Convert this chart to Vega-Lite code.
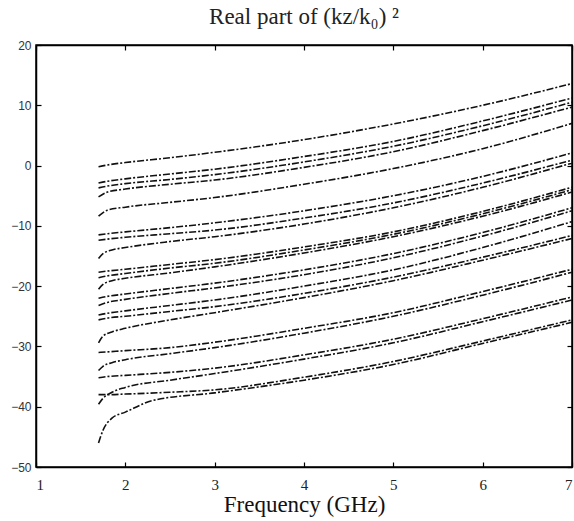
{
  "$schema": "https://vega.github.io/schema/vega-lite/v6.json",
  "width": 536,
  "height": 422,
  "autosize": {"type": "none"},
  "padding": {"left": 36, "top": 45, "right": 2, "bottom": 54},
  "background": "white",
  "config": {
    "view": {"stroke": "#000", "strokeWidth": 1.5},
    "axis": {"grid": false, "domain": true, "domainColor": "#000", "domainWidth": 1.5, "tickColor": "#000", "tickSize": -5, "tickWidth": 1.2}
  },
  "title": {"text": "Real part of  (kz/k₀) ²", "font": "Liberation Serif", "fontSize": 23, "fontWeight": "normal", "color": "#222", "offset": 10, "anchor": "middle"},
  "data": {"values": [
    {"c":"A","x":1.7,"y":-0.2},{"c":"A","x":1.8,"y":0.1},{"c":"A","x":2,"y":0.5},{"c":"A","x":2.5,"y":1.3},{"c":"A","x":3,"y":2.2},{"c":"A","x":4,"y":4.3},{"c":"A","x":5,"y":6.9},{"c":"A","x":6,"y":10.0},{"c":"A","x":7,"y":13.6},
    {"c":"B1","x":1.7,"y":-2.9},{"c":"B1","x":1.8,"y":-2.6},{"c":"B1","x":2,"y":-2.2},{"c":"B1","x":2.5,"y":-1.4},{"c":"B1","x":3,"y":-0.6},{"c":"B1","x":4,"y":1.5},{"c":"B1","x":5,"y":4.0},{"c":"B1","x":6,"y":7.4},{"c":"B1","x":7,"y":11.2},
    {"c":"B2","x":1.7,"y":-3.7},{"c":"B2","x":1.8,"y":-3.4},{"c":"B2","x":2,"y":-3.0},{"c":"B2","x":2.5,"y":-2.3},{"c":"B2","x":3,"y":-1.5},{"c":"B2","x":4,"y":0.6},{"c":"B2","x":5,"y":3.2},{"c":"B2","x":6,"y":6.6},{"c":"B2","x":7,"y":10.5},
    {"c":"B3","x":1.7,"y":-5.2},{"c":"B3","x":1.8,"y":-4.4},{"c":"B3","x":2,"y":-3.9},{"c":"B3","x":2.5,"y":-3.1},{"c":"B3","x":3,"y":-2.4},{"c":"B3","x":4,"y":-0.3},{"c":"B3","x":5,"y":2.3},{"c":"B3","x":6,"y":5.8},{"c":"B3","x":7,"y":9.7},
    {"c":"C","x":1.7,"y":-8.4},{"c":"C","x":1.8,"y":-7.4},{"c":"C","x":2,"y":-6.9},{"c":"C","x":2.5,"y":-6.1},{"c":"C","x":3,"y":-5.3},{"c":"C","x":4,"y":-3.1},{"c":"C","x":5,"y":-0.5},{"c":"C","x":6,"y":2.8},{"c":"C","x":7,"y":7.0},
    {"c":"D1","x":1.7,"y":-11.5},{"c":"D1","x":1.8,"y":-11.3},{"c":"D1","x":2,"y":-11.0},{"c":"D1","x":2.5,"y":-10.3},{"c":"D1","x":3,"y":-9.5},{"c":"D1","x":4,"y":-7.5},{"c":"D1","x":5,"y":-5.0},{"c":"D1","x":6,"y":-1.8},{"c":"D1","x":7,"y":2.1},
    {"c":"D2","x":1.7,"y":-12.4},{"c":"D2","x":1.8,"y":-12.2},{"c":"D2","x":2,"y":-11.9},{"c":"D2","x":2.5,"y":-11.3},{"c":"D2","x":3,"y":-10.7},{"c":"D2","x":4,"y":-8.7},{"c":"D2","x":5,"y":-6.2},{"c":"D2","x":6,"y":-2.9},{"c":"D2","x":7,"y":0.9},
    {"c":"D3","x":1.7,"y":-15.4},{"c":"D3","x":1.75,"y":-14.6},{"c":"D3","x":1.85,"y":-14.0},{"c":"D3","x":2,"y":-13.6},{"c":"D3","x":2.5,"y":-12.6},{"c":"D3","x":3,"y":-11.8},{"c":"D3","x":4,"y":-9.7},{"c":"D3","x":5,"y":-7.0},{"c":"D3","x":6,"y":-3.6},{"c":"D3","x":7,"y":0.4},
    {"c":"E1","x":1.7,"y":-17.7},{"c":"E1","x":1.8,"y":-17.5},{"c":"E1","x":2,"y":-17.2},{"c":"E1","x":2.5,"y":-16.4},{"c":"E1","x":3,"y":-15.6},{"c":"E1","x":4,"y":-13.5},{"c":"E1","x":5,"y":-11.0},{"c":"E1","x":6,"y":-7.6},{"c":"E1","x":7,"y":-3.6},
    {"c":"E2","x":1.7,"y":-18.6},{"c":"E2","x":1.8,"y":-18.3},{"c":"E2","x":2,"y":-17.9},{"c":"E2","x":2.5,"y":-17.0},{"c":"E2","x":3,"y":-16.2},{"c":"E2","x":4,"y":-14.0},{"c":"E2","x":5,"y":-11.4},{"c":"E2","x":6,"y":-8.0},{"c":"E2","x":7,"y":-4.0},
    {"c":"E3","x":1.7,"y":-20.5},{"c":"E3","x":1.75,"y":-19.7},{"c":"E3","x":1.85,"y":-19.1},{"c":"E3","x":2,"y":-18.7},{"c":"E3","x":2.5,"y":-17.8},{"c":"E3","x":3,"y":-16.8},{"c":"E3","x":4,"y":-14.5},{"c":"E3","x":5,"y":-11.8},{"c":"E3","x":6,"y":-8.4},{"c":"E3","x":7,"y":-4.4},
    {"c":"F1","x":1.7,"y":-22.0},{"c":"F1","x":1.8,"y":-21.7},{"c":"F1","x":2,"y":-21.3},{"c":"F1","x":2.5,"y":-20.4},{"c":"F1","x":3,"y":-19.5},{"c":"F1","x":4,"y":-17.3},{"c":"F1","x":5,"y":-14.6},{"c":"F1","x":6,"y":-11.1},{"c":"F1","x":7,"y":-7.0},
    {"c":"F2","x":1.7,"y":-23.2},{"c":"F2","x":1.8,"y":-22.7},{"c":"F2","x":2,"y":-22.2},{"c":"F2","x":2.5,"y":-21.2},{"c":"F2","x":3,"y":-20.3},{"c":"F2","x":4,"y":-18.1},{"c":"F2","x":5,"y":-15.3},{"c":"F2","x":6,"y":-11.7},{"c":"F2","x":7,"y":-7.5},
    {"c":"F3","x":1.7,"y":-24.8},{"c":"F3","x":1.8,"y":-24.5},{"c":"F3","x":2,"y":-24.1},{"c":"F3","x":2.5,"y":-23.2},{"c":"F3","x":3,"y":-22.3},{"c":"F3","x":4,"y":-20.0},{"c":"F3","x":5,"y":-17.3},{"c":"F3","x":6,"y":-13.6},{"c":"F3","x":7,"y":-9.3},
    {"c":"H1","x":1.7,"y":-25.6},{"c":"H1","x":1.8,"y":-25.3},{"c":"H1","x":2,"y":-25.0},{"c":"H1","x":2.5,"y":-24.2},{"c":"H1","x":3,"y":-23.4},{"c":"H1","x":4,"y":-21.2},{"c":"H1","x":5,"y":-18.5},{"c":"H1","x":6,"y":-15.2},{"c":"H1","x":7,"y":-11.6},
    {"c":"H2","x":1.7,"y":-29.4},{"c":"H2","x":1.75,"y":-28.3},{"c":"H2","x":1.85,"y":-27.6},{"c":"H2","x":2,"y":-27.0},{"c":"H2","x":2.5,"y":-25.6},{"c":"H2","x":3,"y":-24.4},{"c":"H2","x":4,"y":-21.9},{"c":"H2","x":5,"y":-19.1},{"c":"H2","x":6,"y":-15.7},{"c":"H2","x":7,"y":-12.1},
    {"c":"I1","x":1.7,"y":-31.0},{"c":"I1","x":1.8,"y":-30.9},{"c":"I1","x":2,"y":-30.7},{"c":"I1","x":2.5,"y":-30.2},{"c":"I1","x":3,"y":-29.3},{"c":"I1","x":4,"y":-27.0},{"c":"I1","x":5,"y":-24.4},{"c":"I1","x":6,"y":-20.9},{"c":"I1","x":7,"y":-17.2},
    {"c":"I2","x":1.7,"y":-34.0},{"c":"I2","x":1.75,"y":-33.3},{"c":"I2","x":1.85,"y":-32.7},{"c":"I2","x":2,"y":-32.2},{"c":"I2","x":2.5,"y":-31.2},{"c":"I2","x":3,"y":-30.2},{"c":"I2","x":4,"y":-27.8},{"c":"I2","x":5,"y":-25.0},{"c":"I2","x":6,"y":-21.5},{"c":"I2","x":7,"y":-17.7},
    {"c":"J1","x":1.7,"y":-35.2},{"c":"J1","x":1.8,"y":-35.0},{"c":"J1","x":2,"y":-34.8},{"c":"J1","x":2.5,"y":-34.3},{"c":"J1","x":3,"y":-33.6},{"c":"J1","x":4,"y":-31.4},{"c":"J1","x":5,"y":-28.8},{"c":"J1","x":6,"y":-25.4},{"c":"J1","x":7,"y":-21.8},
    {"c":"J2","x":1.7,"y":-39.6},{"c":"J2","x":1.75,"y":-38.6},{"c":"J2","x":1.85,"y":-37.6},{"c":"J2","x":2,"y":-36.8},{"c":"J2","x":2.5,"y":-35.6},{"c":"J2","x":3,"y":-34.5},{"c":"J2","x":4,"y":-32.1},{"c":"J2","x":5,"y":-29.4},{"c":"J2","x":6,"y":-25.9},{"c":"J2","x":7,"y":-22.3},
    {"c":"K1","x":1.7,"y":-38.0},{"c":"K1","x":1.8,"y":-38.0},{"c":"K1","x":2,"y":-37.9},{"c":"K1","x":2.5,"y":-37.6},{"c":"K1","x":3,"y":-37.2},{"c":"K1","x":4,"y":-35.1},{"c":"K1","x":5,"y":-32.5},{"c":"K1","x":6,"y":-29.1},{"c":"K1","x":7,"y":-25.6},
    {"c":"K2","x":1.7,"y":-46.0},{"c":"K2","x":1.75,"y":-43.9},{"c":"K2","x":1.85,"y":-41.9},{"c":"K2","x":2,"y":-40.9},{"c":"K2","x":2.3,"y":-39.0},{"c":"K2","x":3,"y":-37.7},{"c":"K2","x":4,"y":-35.6},{"c":"K2","x":5,"y":-33.0},{"c":"K2","x":6,"y":-29.5},{"c":"K2","x":7,"y":-26.0}
  ]},
  "layer": [
    {
      "mark": {"type": "line", "interpolate": "monotone", "strokeDash": [7, 2, 2, 2], "strokeWidth": 1.6, "color": "#111"},
      "encoding": {
        "x": {"field": "x", "type": "quantitative", "scale": {"domain": [1, 7], "nice": false},
              "axis": {"orient": "bottom", "values": [1, 2, 3, 4, 5, 6, 7], "labelFont": "Liberation Serif", "labelFontSize": 15, "labelColor": "#222", "labelPadding": 15,
                       "title": "Frequency (GHz)", "titleFont": "Liberation Serif", "titleFontSize": 23, "titleFontWeight": "normal", "titleColor": "#111", "titlePadding": 1}},
        "y": {"field": "y", "type": "quantitative", "scale": {"domain": [-50, 20], "nice": false},
              "axis": {"orient": "left", "values": [-50, -40, -30, -20, -10, 0, 10, 20], "labelFont": "Liberation Sans", "labelFontSize": 12, "labelColor": "#333", "labelPadding": 10, "title": null}},
        "detail": {"field": "c", "type": "nominal"}
      }
    },
    {
      "mark": {"type": "point", "opacity": 0},
      "encoding": {
        "x": {"field": "x", "type": "quantitative", "scale": {"domain": [1, 7], "nice": false},
              "axis": {"orient": "top", "values": [1, 2, 3, 4, 5, 6, 7], "labels": false, "title": null}},
        "y": {"field": "y", "type": "quantitative", "scale": {"domain": [-50, 20], "nice": false},
              "axis": {"orient": "right", "values": [-50, -40, -30, -20, -10, 0, 10, 20], "labels": false, "title": null}}
      }
    }
  ],
  "resolve": {"scale": {"x": "independent", "y": "independent"}, "axis": {"x": "independent", "y": "independent"}}
}
